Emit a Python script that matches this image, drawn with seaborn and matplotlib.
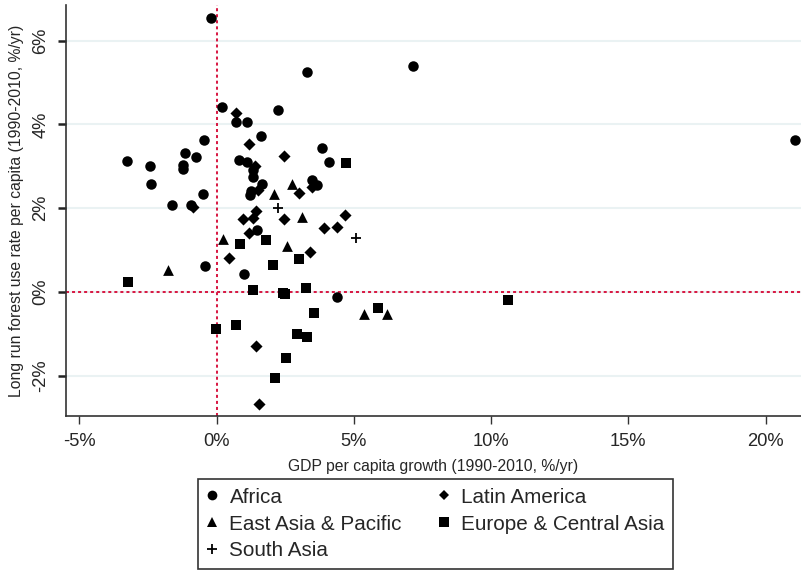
import matplotlib
matplotlib.use("Agg")
import matplotlib.pyplot as plt
from matplotlib.lines import Line2D
import numpy as np
import pandas as pd
import seaborn as sns

# GDP per capita growth (%/yr) and long-run forest use rate per capita (%/yr), by region
africa_x = [-0.22, 0.19, 3.29, 7.15, 2.23, 0.72, 1.12, 1.63, -0.46, -3.25, -2.44, -2.40,
            -1.15, -0.75, -1.23, -1.23, 0.82, 1.09, 1.32, 1.33, 1.64, 1.25, 1.20, -0.49,
            -1.63, -0.93, 3.83, 4.09, 3.46, 3.66, -0.42, 0.99, 4.38, 21.07, 1.48]
africa_y = [6.53, 4.41, 5.25, 5.40, 4.35, 4.06, 4.05, 3.73, 3.63, 3.12, 3.02, 2.59,
            3.32, 3.23, 3.04, 2.93, 3.16, 3.10, 2.91, 2.75, 2.59, 2.41, 2.31, 2.34,
            2.09, 2.08, 3.45, 3.11, 2.68, 2.55, 0.63, 0.43, -0.12, 3.63, 1.48]

eap_x = [-1.76, 0.22, 2.10, 2.76, 3.10, 2.58, 5.38, 6.21]
eap_y = [0.53, 1.26, 2.34, 2.58, 1.80, 1.09, -0.53, -0.53]

sa_x = [2.25, 5.06]
sa_y = [2.00, 1.29]

eca_x = [-3.23, -0.03, 0.70, 0.85, 1.79, 1.31, 2.06, 2.40, 2.49, 2.99, 3.27, 3.54,
         2.92, 3.28, 2.52, 2.11, 4.71, 5.87, 10.60]
eca_y = [0.25, -0.88, -0.78, 1.14, 1.25, 0.04, 0.65, -0.01, -0.04, 0.78, 0.11, -0.50,
         -1.00, -1.06, -1.56, -2.06, 3.07, -0.37, -0.18]

lam_x = [-0.85, 0.69, 1.17, 2.44, 1.40, 1.49, 3.01, 3.46, 1.42, 1.34, 0.96, 2.47,
         4.69, 3.91, 4.37, 1.17, 0.46, 3.40, 1.43, 1.55]
lam_y = [2.02, 4.27, 3.54, 3.25, 3.01, 2.44, 2.36, 2.52, 1.93, 1.78, 1.75, 1.75,
         1.84, 1.54, 1.55, 1.41, 0.82, 0.96, -1.28, -2.67]

regions = ["Africa", "East Asia & Pacific", "South Asia", "Latin America",
           "Europe & Central Asia"]
xticks = [-5, 0, 5, 10, 15, 20]
xtick_labels = ["-5%", "0%", "5%", "10%", "15%", "20%"]
yticks = [-2, 0, 2, 4, 6]
ytick_labels = ["-2%", "0%", "2%", "4%", "6%"]

df = pd.concat([
    pd.DataFrame({"gdp": africa_x, "forest": africa_y, "region": "Africa"}),
    pd.DataFrame({"gdp": eap_x, "forest": eap_y, "region": "East Asia & Pacific"}),
    pd.DataFrame({"gdp": sa_x, "forest": sa_y, "region": "South Asia"}),
    pd.DataFrame({"gdp": lam_x, "forest": lam_y, "region": "Latin America"}),
    pd.DataFrame({"gdp": eca_x, "forest": eca_y, "region": "Europe & Central Asia"}),
], ignore_index=True)

marker_of = {"Africa": "o", "East Asia & Pacific": "^", "South Asia": "+",
             "Latin America": "D", "Europe & Central Asia": "s"}
size_of = {"Africa": 57, "East Asia & Pacific": 60, "South Asia": 55,
           "Latin America": 38, "Europe & Central Asia": 52}
legend_ms = {"Africa": 7.0, "East Asia & Pacific": 7.0, "South Asia": 7.5,
             "Latin America": 5.6, "Europe & Central Asia": 6.6}

sns.set_theme(style="white")
plt.rcParams["font.family"] = ["Liberation Sans", "DejaVu Sans"]

fig = plt.figure(figsize=(8.01, 5.73), dpi=100)
ax = fig.add_axes([66 / 801, 1 - 416 / 573, 1 - 66 / 801, (416 - 5) / 573])

ref_color = "#d81b45"
ax.axvline(0, color=ref_color, lw=1.45, ls=(0, (1.5, 1.5)), zorder=1.5)
ax.axhline(0, color=ref_color, lw=1.45, ls=(0, (1.5, 1.5)), zorder=1.5)

for r in regions:
    sub = df[df["region"] == r]
    m = marker_of[r]
    kw = dict(linewidth=1.3) if m == "+" else dict(linewidth=0)
    sns.scatterplot(data=sub, x="gdp", y="forest", marker=m, s=size_of[r],
                    color="black", ax=ax, zorder=3, legend=False, **kw)

ax.set_xlim(-5.49, 21.29)
ax.set_ylim(-2.955, 6.85)

ax.set_xticks(xticks)
ax.set_xticklabels(xtick_labels, fontsize=13.2)
ax.set_yticks(yticks)
ax.set_yticklabels(ytick_labels, fontsize=13.2, rotation=90, va="center")

ax.yaxis.grid(True, color="#eaf2f3", lw=1.5)
ax.xaxis.grid(False)
ax.set_axisbelow(True)

for side in ["top", "right"]:
    ax.spines[side].set_visible(False)
for side in ["left", "bottom"]:
    ax.spines[side].set_color("#333333")
    ax.spines[side].set_linewidth(1.2)

ax.tick_params(axis="x", direction="out", length=6, width=1.0, color="#333333",
               pad=6, bottom=True)
ax.tick_params(axis="y", direction="out", length=6, width=1.8, color="#222222",
               pad=6, left=True)

ax.set_xlabel("GDP per capita growth (1990-2010, %/yr)", fontsize=11.3, labelpad=7)
ax.set_ylabel("Long run forest use rate per capita (1990-2010, %/yr)", fontsize=11.3,
              labelpad=6)

handles = [Line2D([], [], linestyle="none", marker=marker_of[r], color="black",
                  markersize=legend_ms[r], markeredgewidth=1.3 if marker_of[r] == "+" else 0)
           for r in regions]
leg = fig.legend(handles, regions, loc="upper left", bbox_to_anchor=(198 / 801, 1 - 479 / 573),
                 ncol=2, fontsize=14.9, frameon=True, fancybox=False, edgecolor="#333333",
                 framealpha=1, borderpad=0.42, handlelength=0.55, handletextpad=0.55,
                 columnspacing=1.75, labelspacing=0.38, borderaxespad=0)
leg.get_frame().set_linewidth(1.2)

fig.savefig("out.png", dpi=100)
